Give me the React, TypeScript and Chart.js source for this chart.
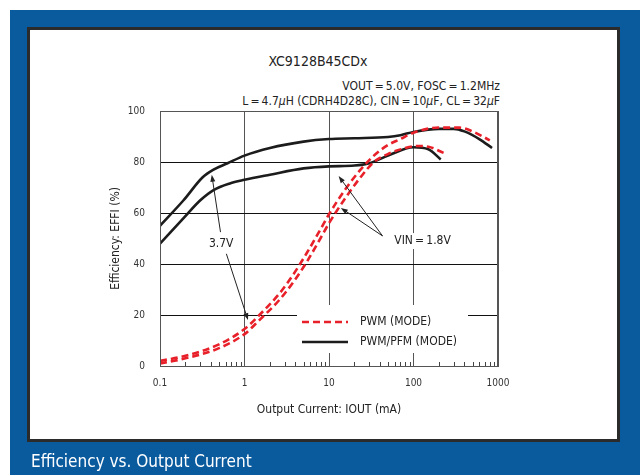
import React, { useEffect, useRef } from "react";
import { Chart, registerables } from "chart.js";

Chart.register(...registerables);

const FONT = "'Liberation Sans Narrow', 'DejaVu Sans Condensed', 'Roboto Condensed', 'Liberation Sans', Arial, sans-serif";

// Output current (mA) and efficiency (%)
const pwm37X = [0.1, 0.2, 0.5, 1, 1.5, 2.6, 3.8, 5.5, 7.9, 10, 15, 23.6, 34, 49, 70, 100, 200, 350, 500, 800];
const pwm37Y = [2, 4, 8.5, 14.5, 20, 28.5, 36, 44.5, 53.5, 59.5, 68.5, 77, 82.5, 86.5, 89, 91.5, 93.5, 93.5, 92, 88.5];

const pwm18X = [0.1, 0.2, 0.5, 1, 1.5, 2.6, 3.8, 5.5, 7.9, 10, 15, 23.6, 34, 49, 80, 110, 150, 230];
const pwm18Y = [1, 3, 7, 12.5, 18, 26, 33, 41, 50, 56, 65, 74, 80, 83, 85.5, 86.3, 86, 83.5];

const pfm37X = [0.1, 0.19, 0.32, 0.43, 0.63, 1, 2, 5, 10, 20, 50, 70, 100, 200, 300, 400, 600, 850];
const pfm37Y = [55, 65, 74, 77, 79.5, 82.5, 85.5, 88, 89, 89.3, 89.8, 90.5, 91.8, 93, 93, 92, 89, 85.5];

const pfm18X = [0.1, 0.19, 0.3, 0.43, 0.67, 1, 2, 5, 10, 20, 30, 50, 100, 150, 210];
const pfm18Y = [48, 58, 65, 69, 71.6, 73, 75, 77.5, 78.3, 78.6, 79.5, 82.5, 85.8, 85, 81];

const xTicks = [0.1, 1, 10, 100, 1000];
const minorMultipliers = [2, 3, 4, 5, 6, 7, 8, 9];

const legendLabels = ["PWM (MODE)", "PWM/PFM (MODE)"];

// annotation anchors in data coordinates [mA, %]
const label37 = { text: "3.7V", x: 0.53, y: 48 };
const arrows37 = [
  { from: [0.52, 52.5], to: [0.41, 75] },
  { from: [0.61, 44], to: [1.1, 18] },
];
const labelVin = { text: "VIN\u2009=\u20091.8V", x: 128, y: 49 };
const arrowsVin = [
  { from: [43, 51], to: [13, 74.5] },
  { from: [43, 51], to: [13.8, 62] },
];

const RED = "#e8202a";
const BLACK = "#1c1c1c";

const pts = (xs: number[], ys: number[]) => xs.map((x, i) => ({ x, y: ys[i] }));

const annotPlugin = {
  id: "annot",
  beforeDatasetsDraw(chart: any) {
    const { ctx, chartArea: a, scales } = chart;
    const x = scales.x, y = scales.y;
    ctx.save();
    ctx.fillStyle = "#fff";
    ctx.fillRect(a.left + 137, a.top + 194, 171, 48);
    const vx = x.getPixelForValue(labelVin.x);
    const vy = y.getPixelForValue(labelVin.y);
    ctx.fillRect(vx - 33, vy - 8, 66, 16);
    ctx.restore();
  },
  afterDatasetsDraw(chart: any) {
    const { ctx, chartArea: a, scales } = chart;
    const x = scales.x, y = scales.y;
    ctx.save();
    ctx.strokeStyle = "#555";
    ctx.lineWidth = 1;
    ctx.strokeRect(a.left + 0.5, a.top + 0.5, a.right - a.left - 1, a.bottom - a.top);
    ctx.strokeStyle = "#444";
    for (let d = 0.1; d < 1000; d *= 10) {
      for (const m of minorMultipliers) {
        const px = Math.round(x.getPixelForValue(d * m)) + 0.5;
        ctx.beginPath();
        ctx.moveTo(px, a.bottom);
        ctx.lineTo(px, a.bottom - 4);
        ctx.stroke();
      }
    }
    ctx.fillStyle = "#222";
    ctx.font = `12px ${FONT}`;
    ctx.textAlign = "center";
    ctx.textBaseline = "middle";
    ctx.fillText(label37.text, x.getPixelForValue(label37.x), y.getPixelForValue(label37.y));
    ctx.fillText(labelVin.text, x.getPixelForValue(labelVin.x), y.getPixelForValue(labelVin.y));
    const arrow = (f: number[], t: number[]) => {
      const x1 = x.getPixelForValue(f[0]), y1 = y.getPixelForValue(f[1]);
      const x2 = x.getPixelForValue(t[0]), y2 = y.getPixelForValue(t[1]);
      const ang = Math.atan2(y2 - y1, x2 - x1);
      ctx.strokeStyle = "#222";
      ctx.fillStyle = "#222";
      ctx.lineWidth = 1;
      ctx.beginPath();
      ctx.moveTo(x1, y1);
      ctx.lineTo(x2 - Math.cos(ang) * 4, y2 - Math.sin(ang) * 4);
      ctx.stroke();
      ctx.beginPath();
      ctx.moveTo(x2, y2);
      ctx.lineTo(x2 - Math.cos(ang) * 7 - Math.sin(ang) * 2.5, y2 - Math.sin(ang) * 7 + Math.cos(ang) * 2.5);
      ctx.lineTo(x2 - Math.cos(ang) * 7 + Math.sin(ang) * 2.5, y2 - Math.sin(ang) * 7 - Math.cos(ang) * 2.5);
      ctx.closePath();
      ctx.fill();
    };
    [...arrows37, ...arrowsVin].forEach((ar) => arrow(ar.from, ar.to));
    const lx = a.left + 142;
    const ly1 = a.top + 211;
    const ly2 = a.top + 231;
    ctx.lineWidth = 2.6;
    ctx.strokeStyle = RED;
    ctx.setLineDash([7, 4]);
    ctx.beginPath();
    ctx.moveTo(lx, ly1);
    ctx.lineTo(lx + 46, ly1);
    ctx.stroke();
    ctx.setLineDash([]);
    ctx.strokeStyle = BLACK;
    ctx.beginPath();
    ctx.moveTo(lx, ly2);
    ctx.lineTo(lx + 46, ly2);
    ctx.stroke();
    ctx.fillStyle = "#222";
    ctx.textAlign = "left";
    ctx.font = `12px ${FONT}`;
    ctx.fillText(legendLabels[0], lx + 58, ly1);
    ctx.fillText(legendLabels[1], lx + 58, ly2);
    ctx.restore();
  },
};

export default function App() {
  const ref = useRef<HTMLCanvasElement>(null);
  useEffect(() => {
    if (!ref.current) return;
    Chart.defaults.font.family = FONT;
    const line = (data: any, color: string, dashed: boolean) => ({
      data,
      borderColor: color,
      backgroundColor: color,
      borderWidth: 2.6,
      borderDash: dashed ? [7, 4] : [],
      pointRadius: 0,
      fill: false,
      cubicInterpolationMode: "monotone" as const,
    });
    const chart = new Chart(ref.current, {
      type: "line",
      data: {
        datasets: [
          line(pts(pwm37X, pwm37Y), RED, true),
          line(pts(pwm18X, pwm18Y), RED, true),
          line(pts(pfm37X, pfm37Y), BLACK, false),
          line(pts(pfm18X, pfm18Y), BLACK, false),
        ],
      },
      options: {
        animation: false,
        responsive: false,
        events: [],
        layout: { padding: { left: 102, right: 142, top: 111, bottom: 53 } },
        plugins: { legend: { display: false }, tooltip: { enabled: false }, title: { display: false } },
        scales: {
          x: {
            type: "logarithmic",
            min: 0.1,
            max: 1000,
            afterBuildTicks: (s: any) => {
              s.ticks = xTicks.map((v) => ({ value: v, major: true }));
            },
            afterFit: (s: any) => {
              s.height = 56;
            },
            ticks: {
              autoSkip: false,
              maxRotation: 0,
              padding: 11,
              color: "#333",
              font: { size: 10 },
              callback: (v: any) => String(+v),
            },
            grid: { color: "#555", lineWidth: 1, drawTicks: false },
            border: { display: true, color: "#555" },
            title: {
              display: true,
              text: "Output Current: IOUT (mA)",
              color: "#222",
              font: { size: 12 },
              padding: { top: 0, bottom: 5 },
            },
          },
          y: {
            type: "linear",
            min: 0,
            max: 100,
            afterFit: (s: any) => {
              s.width = 58;
            },
            ticks: { stepSize: 20, padding: 15, color: "#333", font: { size: 10 } },
            grid: { color: "#111", lineWidth: 1, drawTicks: false },
            border: { display: true, color: "#333" },
            title: {
              display: true,
              text: "Efficiency: EFFI (%)",
              color: "#222",
              font: { size: 12 },
              padding: { top: 7, bottom: 0 },
            },
          },
        },
      },
      plugins: [annotPlugin],
    });
    return () => chart.destroy();
  }, []);

  return (
    <div
      style={{
        position: "absolute",
        left: 0,
        top: 0,
        width: 640,
        height: 475,
        background: "#fff",
        overflow: "hidden",
        fontFamily: FONT,
      }}
    >
      <div style={{ position: "absolute", left: 10, top: 10, width: 630, height: 465, background: "#0a5a9e" }} />
      <div
        style={{
          position: "absolute",
          left: 27,
          top: 27,
          width: 593,
          height: 415,
          boxSizing: "border-box",
          background: "#fff",
          border: "3px solid #2b2b2b",
        }}
      />
      <div
        style={{
          position: "absolute",
          left: 218,
          width: 200,
          top: 52,
          lineHeight: "18px",
          fontSize: 14,
          textAlign: "center",
          color: "#222",
        }}
      >
        XC9128B45CDx
      </div>
      <div
        style={{
          position: "absolute",
          right: 140,
          top: 78,
          lineHeight: "16px",
          fontSize: 12,
          textAlign: "right",
          color: "#222",
          whiteSpace: "nowrap",
        }}
      >
        VOUT{"\u2009=\u2009"}5.0V, FOSC{"\u2009=\u2009"}1.2MHz
      </div>
      <div
        style={{
          position: "absolute",
          right: 140,
          top: 93,
          lineHeight: "16px",
          fontSize: 12,
          textAlign: "right",
          color: "#222",
          whiteSpace: "nowrap",
        }}
      >
        L{"\u2009=\u2009"}4.7<i>μ</i>H (CDRH4D28C), CIN{"\u2009=\u2009"}10<i>μ</i>F, CL{"\u2009=\u2009"}32<i>μ</i>F
      </div>
      <canvas ref={ref} width={640} height={475} style={{ position: "absolute", left: 0, top: 0, width: 640, height: 475 }} />
      <div
        style={{
          position: "absolute",
          left: 31,
          top: 451,
          lineHeight: "20px",
          fontSize: 17,
          color: "#fff",
          whiteSpace: "nowrap",
        }}
      >
        Efficiency vs. Output Current
      </div>
    </div>
  );
}
